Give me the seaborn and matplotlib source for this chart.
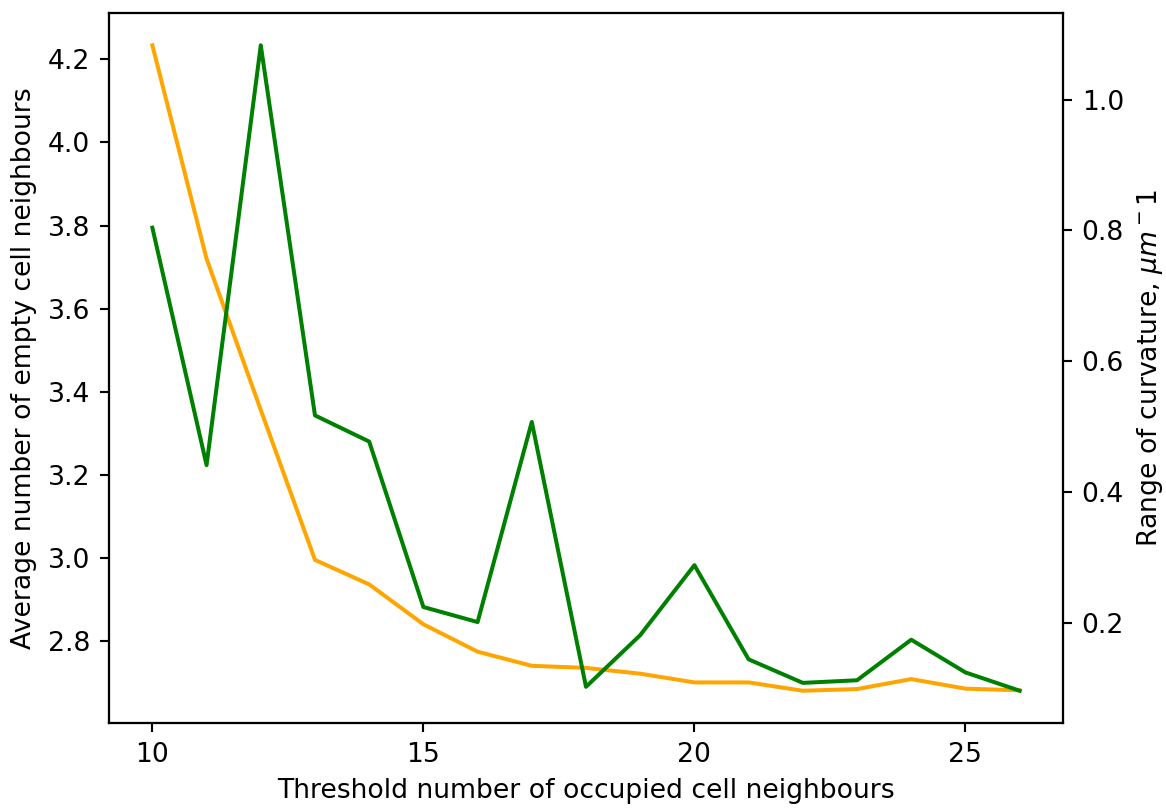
import matplotlib
matplotlib.use("Agg")
import matplotlib.pyplot as plt
from matplotlib.ticker import MultipleLocator
import seaborn as sns
import pandas as pd

# Threshold number of occupied neighbours
thresholds = [10, 11, 12, 13, 14, 15, 16, 17, 18, 19, 20, 21, 22, 23, 24, 25, 26]

# Average number of empty cell neighbours (left axis)
avg_empty = [4.234, 3.720, 3.356, 2.995, 2.936, 2.840, 2.774, 2.740, 2.735,
             2.721, 2.700, 2.700, 2.680, 2.684, 2.708, 2.685, 2.681]

# Range of curvature in 1/um (right axis)
curv_range = [0.804, 0.441, 1.083, 0.517, 0.477, 0.224, 0.201, 0.507, 0.102,
              0.181, 0.288, 0.144, 0.108, 0.112, 0.174, 0.124, 0.096]

df = pd.DataFrame({"threshold": thresholds, "empty": avg_empty, "curv": curv_range})

fig = plt.figure(figsize=(1166 / 192, 811 / 192), dpi=192)
ax = fig.add_axes([109 / 1166, 1 - 723 / 811, (1063 - 109) / 1166, (723 - 13) / 811])

sns.lineplot(data=df, x="threshold", y="empty", ax=ax, color="orange", linewidth=1.5)
ax.set_xlabel("Threshold number of occupied cell neighbours")
ax.set_ylabel("Average number of empty cell neighbours")
ax.xaxis.set_major_locator(MultipleLocator(5))

ax2 = ax.twinx()
sns.lineplot(data=df, x="threshold", y="curv", ax=ax2, color="green", linewidth=1.5)
ax2.set_ylabel(r"Range of curvature, $\mu m^-1$")

fig.savefig("out.png", dpi=192)
